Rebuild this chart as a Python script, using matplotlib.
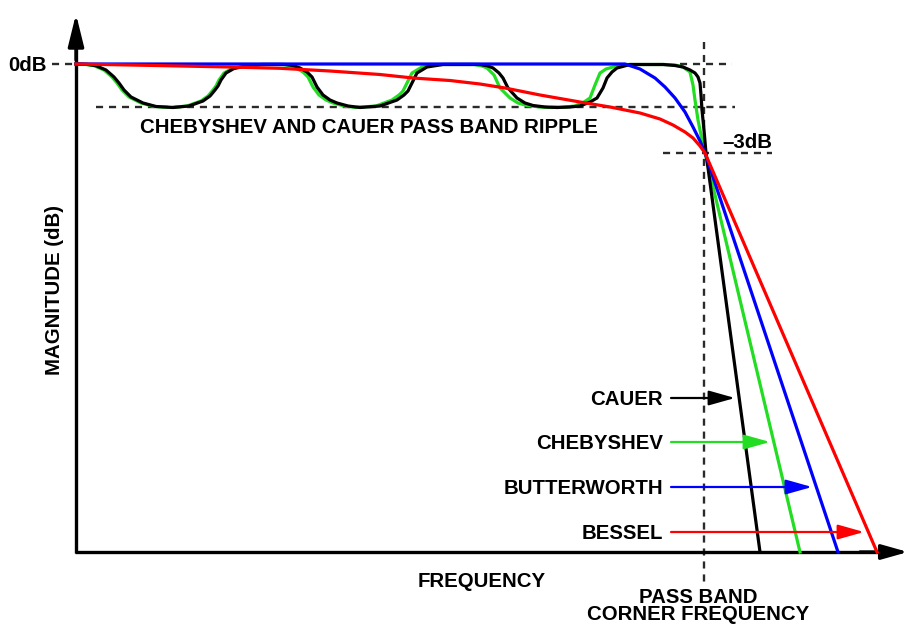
import matplotlib
matplotlib.use("Agg")
import matplotlib.pyplot as plt

# ---------------- data (chart units: x = frequency position, y = magnitude position, 0 dB at y=64) -------------
cauer_x = [76, 88, 96, 106, 114, 119, 124, 131, 143, 156, 173, 189, 203, 210, 215, 218, 221, 226, 234, 246, 262,
           285, 293, 300, 307, 312, 315, 317, 323, 330, 337, 348, 360, 380, 397, 404, 408, 412, 417, 427, 443,
           480, 488, 493, 499, 503, 508, 517, 525, 533, 545, 557, 570, 580, 590, 597, 603, 607, 612, 617, 630,
           663, 675, 683, 690, 695, 698, 700, 701, 702, 704, 706, 760]
cauer_y = [64, 64.5, 65.7, 70, 77, 83, 90, 97, 103, 106.5, 107.5, 106, 101, 96, 90, 86, 80, 73, 68.5, 66, 64.5,
           64.5, 65.5, 68, 72, 77, 83, 87, 95, 100, 103, 106, 107.5, 106, 100, 95, 91, 83, 73, 67, 64.5,
           64.5, 66, 68, 73, 78, 88, 98, 103, 105.5, 107, 107.5, 107, 106, 102, 98, 88, 78, 72, 68, 64.5,
           64.5, 65.5, 67, 70, 73, 77, 83, 95, 110, 130, 153, 552]

cheby_x = [76, 86, 94, 104, 112, 117, 122, 129, 141, 154, 171, 187, 201, 208, 213, 216, 219, 224, 232, 244, 260,
           282, 290, 296, 303, 308, 311, 313, 319, 326, 333, 344, 356, 376, 392, 399, 403, 407, 412, 422, 438,
           474, 482, 487, 494, 500, 510, 518, 527, 540, 552, 565, 575, 584, 590, 595, 600, 606, 613, 625,
           665, 675, 683, 690, 693, 695, 698, 702, 705, 800]
cheby_y = [64, 64.5, 65.7, 70, 77, 83, 90, 97, 103, 106.5, 107.5, 106, 101, 96, 90, 86, 80, 73, 68.5, 66, 64.5,
           64.5, 65.5, 68, 72, 77, 83, 87, 95, 100, 103, 106, 107.5, 106, 100, 95, 91, 83, 73, 67, 64.5,
           64.5, 66, 68, 75, 88, 98, 103, 105.5, 107, 107.5, 107, 106, 102, 98, 85, 73, 69, 67, 64.5,
           64.5, 65, 67, 72, 85, 100, 120, 140, 153, 552]

butter_x = [76, 625, 640, 655, 665, 675, 685, 693, 700, 705, 838]
butter_y = [64, 64, 69, 78, 87, 98, 112, 127, 141, 153, 552]

bessel_x = [76, 130, 180, 230, 280, 330, 380, 413, 450, 480, 505, 540, 580, 610, 640, 660, 673, 685, 693, 700, 705, 877]
bessel_y = [64, 65, 66, 67, 68.3, 71, 74.5, 78, 80.5, 84, 88, 95, 102, 107, 113, 119, 125, 132, 138, 146, 153, 552]

labels = ["CAUER", "CHEBYSHEV", "BUTTERWORTH", "BESSEL"]
label_y = [398, 442, 487, 532]
arrow_tip_x = [735, 770, 812, 864]

zero_db_y = 64
ripple_y = 107
minus3_y = 153
corner_x = 704

# ---------------- styles ----------------
BLACK = "#000000"
GREEN = "#22dd22"
BLUE = "#0000ff"
RED = "#ff0000"
DASH = "#2a2a2a"
colors = [BLACK, GREEN, BLUE, RED]

plt.rcParams['font.family'] = ['Liberation Sans', 'DejaVu Sans']

fig = plt.figure(figsize=(9.08, 6.24), dpi=100)
ax = fig.add_axes([0, 0, 1, 1])
ax.set_xlim(0, 908)
ax.set_ylim(624, 0)
ax.axis('off')

dash_ls = (0, (3.0, 2.5))
dlw = 1.7

# dashed guides
ax.plot([52, 76], [zero_db_y, zero_db_y], color=DASH, lw=dlw, ls=dash_ls)
ax.plot([680, 732], [zero_db_y, zero_db_y], color=DASH, lw=dlw, ls=dash_ls)
ax.plot([96, 735], [ripple_y, ripple_y], color=DASH, lw=dlw, ls=dash_ls)
ax.plot([663, 772], [minus3_y, minus3_y], color=DASH, lw=dlw, ls=dash_ls)
ax.plot([corner_x, corner_x], [42, 582], color=DASH, lw=dlw, ls=dash_ls)

# axes with arrows
ax.plot([76, 76], [553, 30], color='black', lw=2.4, solid_capstyle='butt')
ax.plot([74.8, 895], [552, 552], color='black', lw=2.4, solid_capstyle='butt')
ax.annotate('', xy=(76, 14), xytext=(76, 60),
            arrowprops=dict(arrowstyle='-|>,head_length=1.95,head_width=0.48', mutation_scale=10,
                            color='black', lw=2.4, shrinkA=0, shrinkB=0))
ax.annotate('', xy=(908, 552), xytext=(860, 552),
            arrowprops=dict(arrowstyle='-|>,head_length=1.6,head_width=0.45', mutation_scale=10,
                            color='black', lw=2.4, shrinkA=0, shrinkB=0))

# curves (bottom to top: green, black, blue, red)
clw = 2.3
ax.plot(cheby_x, cheby_y, color=GREEN, lw=clw, solid_joinstyle='round', zorder=3)
ax.plot(cauer_x, cauer_y, color=BLACK, lw=clw, solid_joinstyle='round', zorder=4)
ax.plot(butter_x, butter_y, color=BLUE, lw=clw, solid_joinstyle='round', zorder=5)
ax.plot(bessel_x, bessel_y, color=RED, lw=clw, solid_joinstyle='round', zorder=6)

# labels with arrows
fs = 14.7
for lab, y, tip, c in zip(labels, label_y, arrow_tip_x, colors):
    ax.text(663, y + 7, lab, ha='right', va='baseline', fontsize=fs, fontweight='bold')
    ax.annotate('', xy=(tip, y), xytext=(671, y),
                arrowprops=dict(arrowstyle='-|>,head_length=1.6,head_width=0.45', mutation_scale=10,
                                color=c, lw=1.6, shrinkA=0, shrinkB=0), zorder=7)

# text annotations
ax.text(47, 71, "0dB", ha='right', va='baseline', fontsize=fs, fontweight='bold')
ax.text(369, 133, "CHEBYSHEV AND CAUER PASS BAND RIPPLE", ha='center', va='baseline',
        fontsize=fs, fontweight='bold')
ax.text(747, 148, "\u20133dB", ha='center', va='baseline', fontsize=fs, fontweight='bold')
ax.text(482, 587, "FREQUENCY", ha='center', va='baseline', fontsize=fs, fontweight='bold')
ax.text(698, 624, "PASS BAND\nCORNER FREQUENCY", ha='center', va='bottom', multialignment='center',
        linespacing=0.88, fontsize=fs, fontweight='bold')
ax.text(60, 290, "MAGNITUDE (dB)", ha='center', va='baseline', rotation=90, rotation_mode='anchor',
        fontsize=fs, fontweight='bold')

fig.savefig("out.png", dpi=100)
